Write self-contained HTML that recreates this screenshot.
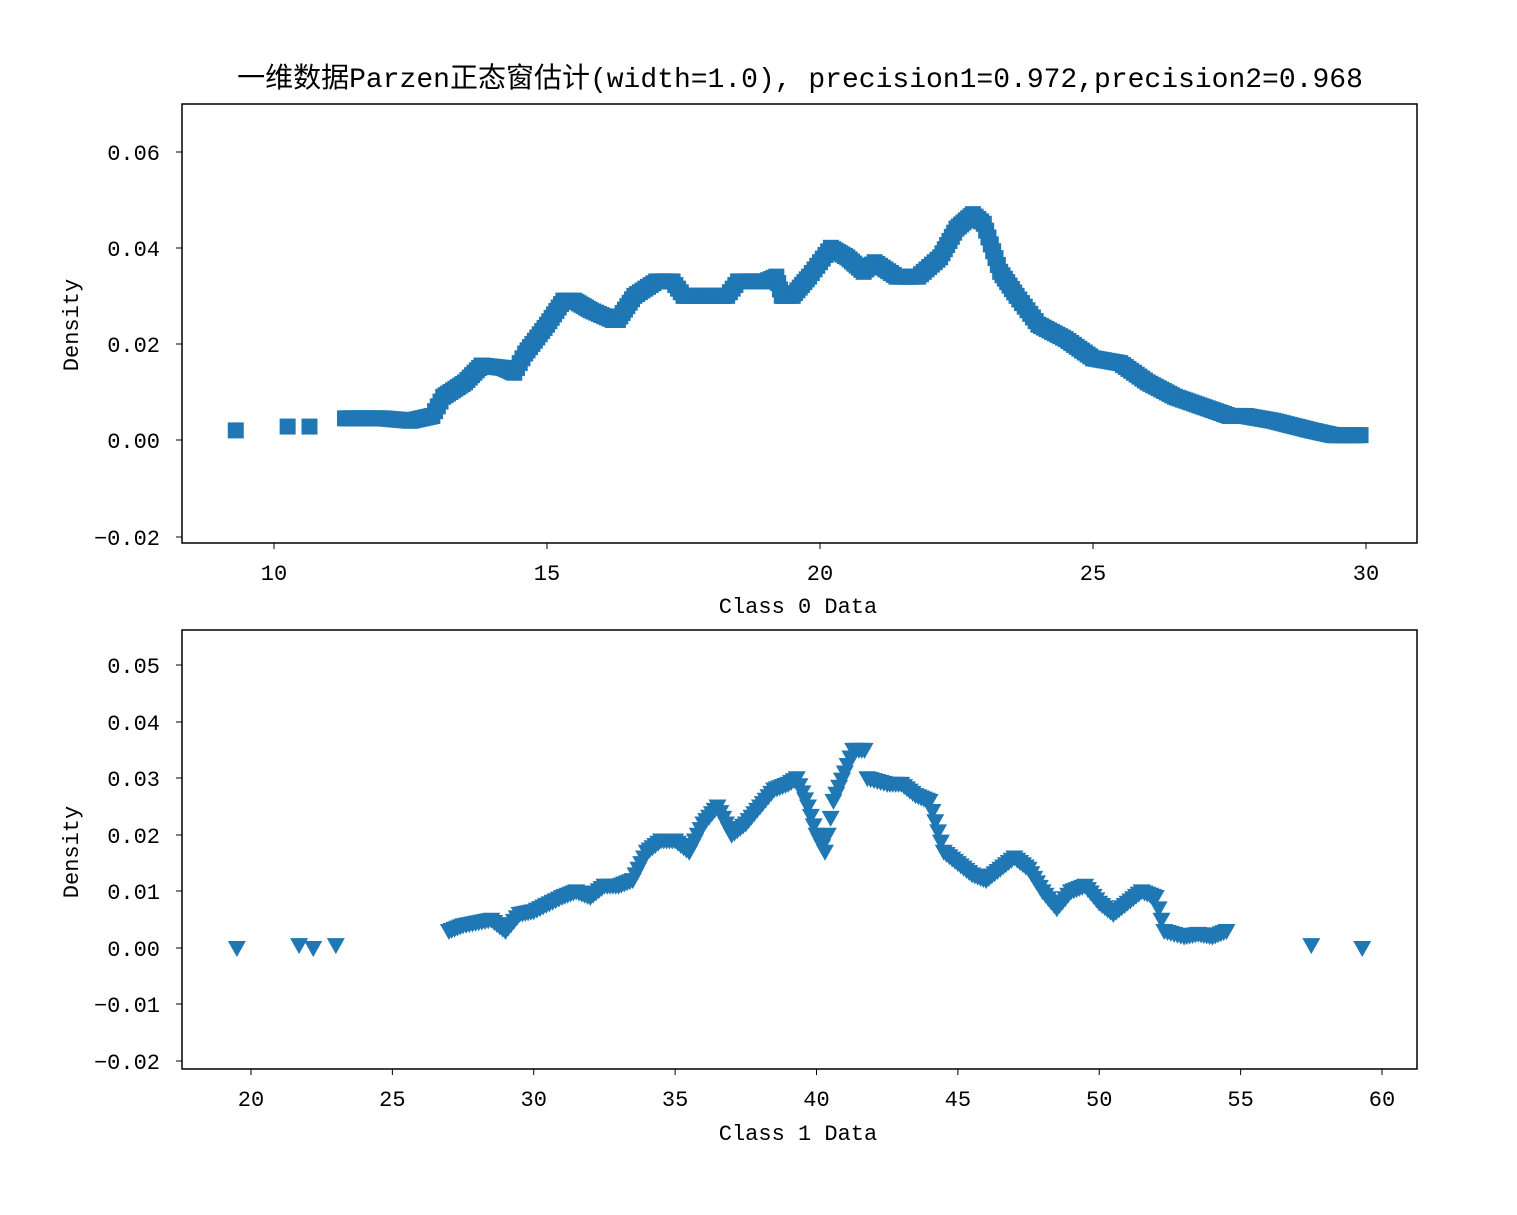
<!DOCTYPE html>
<html><head><meta charset="utf-8"><style>
body{margin:0;background:#fff;}
svg text{font-family:"Liberation Mono","Noto Sans CJK SC",monospace;fill:#000;}
</style></head><body>
<svg id="s" width="1517" height="1210" xmlns="http://www.w3.org/2000/svg">
<rect width="1517" height="1210" fill="#fff"/>
<text x="800" y="87" font-size="28" text-anchor="middle" font-family="'Noto Sans CJK SC',sans-serif">一维数据Parzen正态窗估计(width=1.0), precision1=0.972,precision2=0.968</text>
<g id="g1"></g><g id="g2"></g>
<rect x="182" y="104" width="1235" height="439" fill="none" stroke="#000" stroke-width="1.5"/>
<rect x="182" y="630" width="1235" height="439" fill="none" stroke="#000" stroke-width="1.5"/>
<g id="ax" font-size="22"></g>
<text x="798" y="613" font-size="22" text-anchor="middle">Class 0 Data</text>
<text x="798" y="1140" font-size="22" text-anchor="middle">Class 1 Data</text>
<text transform="translate(78,325) rotate(-90)" font-size="22" text-anchor="middle">Density</text>
<text transform="translate(78,852) rotate(-90)" font-size="22" text-anchor="middle">Density</text>
</svg>
<script>
var NS="http://www.w3.org/2000/svg",C="#1f77b4";
function el(p,t,a,txt){var e=document.createElementNS(NS,t);for(var k in a)e.setAttribute(k,a[k]);if(txt)e.textContent=txt;p.appendChild(e);return e;}
var ax=document.getElementById('ax');
var yt=[[0.06,152],[0.04,248],[0.02,344],[0.00,440],[-0.02,537]];
yt.forEach(function(t){el(ax,'line',{x1:176,x2:182,y1:t[1],y2:t[1],stroke:'#000'});el(ax,'text',{x:160,y:t[1]+8,'text-anchor':'end'},t[0].toFixed(2).replace('-','−'));});
[10,15,20,25,30].forEach(function(v){var x=274+(v-10)*54.6;el(ax,'line',{x1:x,x2:x,y1:543,y2:549,stroke:'#000'});el(ax,'text',{x:x,y:580,'text-anchor':'middle'},v);});
var yb=[[0.05,665],[0.04,722],[0.03,778],[0.02,835],[0.01,891],[0,948],[-0.01,1004],[-0.02,1061]];
yb.forEach(function(t){el(ax,'line',{x1:176,x2:182,y1:t[1],y2:t[1],stroke:'#000'});el(ax,'text',{x:160,y:t[1]+8,'text-anchor':'end'},t[0].toFixed(2).replace('-','−'));});
[20,25,30,35,40,45,50,55,60].forEach(function(v){var x=251+(v-20)*28.275;el(ax,'line',{x1:x,x2:x,y1:1069,y2:1075,stroke:'#000'});el(ax,'text',{x:x,y:1106,'text-anchor':'middle'},v);});
function dense(pts,step){var out=[];for(var i=0;i<pts.length-1;i++){var a=pts[i],b=pts[i+1];var n=Math.max(1,Math.ceil((b[0]-a[0])/step));for(var j=0;j<n;j++){var f=j/n;out.push([a[0]+(b[0]-a[0])*f,a[1]+(b[1]-a[1])*f]);}}out.push(pts[pts.length-1]);return out;}
var g1=document.getElementById('g1');
function sq(x,d){var X=274+(x-10)*54.6,Y=440-d*4805;el(g1,'rect',{x:X-8,y:Y-8,width:16,height:16,fill:C});}
[[9.3,0.002],[10.25,0.0028],[10.65,0.0028]].forEach(function(p){sq(p[0],p[1]);});
var t1=[[11.3,.0045],[12.0,.0045],[12.5,.004],[12.9,.005],[13.1,.009],[13.5,.012],[13.8,.0155],[14.2,.015],[14.4,.014],[14.6,.018],[15.0,.024],[15.3,.029],[15.5,.029],[15.8,.027],[16.2,.025],[16.3,.025],[16.6,.03],[17.0,.033],[17.3,.033],[17.5,.03],[18.3,.03],[18.5,.033],[19.0,.033],[19.2,.034],[19.3,.03],[19.5,.03],[19.8,.034],[20.2,.04],[20.5,.038],[20.8,.035],[21.0,.037],[21.4,.034],[21.8,.034],[22.2,.038],[22.5,.044],[22.8,.047],[23.0,.045],[23.3,.035],[23.6,.03],[24.0,.024],[24.5,.021],[25.0,.017],[25.5,.016],[26.0,.012],[26.5,.009],[27.0,.007],[27.5,.005],[27.8,.005],[28.3,.004],[29.0,.002],[29.4,.001],[29.9,.001]];
dense(t1,0.05).forEach(function(p){sq(p[0],p[1]);});
var g2=document.getElementById('g2');
function tri(x,d){var X=251+(x-20)*28.275,Y=948-d*5660;el(g2,'polygon',{points:(X-9)+','+(Y-7)+' '+(X+9)+','+(Y-7)+' '+X+','+(Y+9),fill:C});}
[[19.5,0],[21.7,.0005],[22.2,0],[23.0,.0005],[57.5,.0005],[59.3,0]].forEach(function(p){tri(p[0],p[1]);});
var t2=[[27,.003],[27.5,.004],[28.5,.005],[29,.003],[29.5,.006],[30,.0065],[31,.009],[31.5,.01],[32,.009],[32.5,.011],[33,.011],[33.5,.012],[34,.017],[34.5,.019],[35,.019],[35.5,.017],[36,.022],[36.5,.025],[37,.02],[37.5,.022],[38,.025],[38.5,.028],[39,.029],[39.3,.03],[39.7,.025],[40,.02],[40.3,.017],[40.6,.026],[41.0,.031],[41.3,.035],[41.7,.035],[41.8,.03],[42.5,.029],[43,.029],[43.5,.027],[44,.026],[44.5,.017],[45,.015],[45.5,.013],[46,.012],[46.5,.014],[47,.016],[47.5,.014],[48,.01],[48.5,.007],[49,.01],[49.5,.011],[50,.008],[50.5,.006],[51,.008],[51.5,.01],[52,.009],[52.3,.003],[53,.002],[53.5,.0025],[54,.002],[54.5,.003]];
dense(t2,0.12).forEach(function(p){tri(p[0],p[1]);});
</script>
</body></html>
